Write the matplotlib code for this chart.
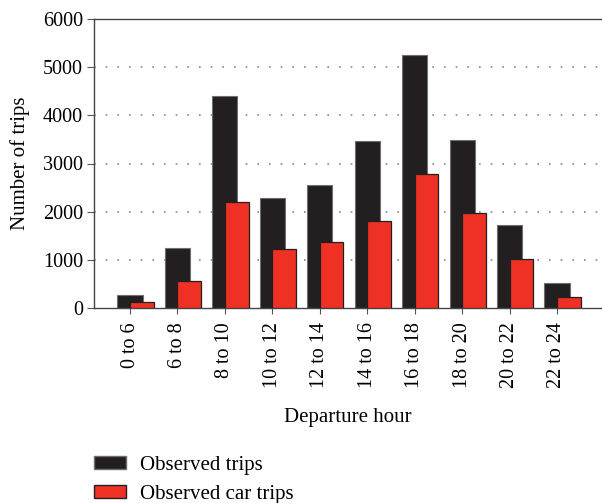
import numpy as np
import matplotlib.pyplot as plt
from matplotlib.patches import Patch

plt.rcParams['font.family'] = ['Liberation Serif', 'DejaVu Serif']

# departure hour bins and counts
hours = ['0 to 6', '6 to 8', '8 to 10', '10 to 12', '12 to 14',
         '14 to 16', '16 to 18', '18 to 20', '20 to 22', '22 to 24']
all_trips = [280, 1245, 4400, 2285, 2550, 3460, 5250, 3480, 1715, 510]
car_trips = [120, 570, 2205, 1230, 1360, 1800, 2790, 1965, 1015, 230]

black = '#231f20'
red = '#ee3124'

fig = plt.figure(figsize=(6.02, 5.03), dpi=100)
ax = fig.add_axes([94/602, 1-308/503, 1-94/602, (308-19)/503])

x = np.arange(len(hours))
ax.bar(x, all_trips, width=0.53, color=black, edgecolor='#6d6e71',
       linewidth=0.8, zorder=2)
ax.bar(x, car_trips, width=0.5, align='edge', color=red, edgecolor=black,
       linewidth=0.9, zorder=3)

ax.set_xlim(-0.76, 9.95)
ax.set_ylim(0, 6000)
ax.set_yticks(np.arange(0, 6001, 1000))
ax.set_xticks(x)
ax.set_xticklabels(hours, rotation=90, fontsize=14.5)
ax.tick_params(axis='y', labelsize=14.5, direction='out', length=5, color='#555555', pad=3)
ax.tick_params(axis='x', direction='out', length=4, color='#555555', pad=6)

for v in range(1000, 6000, 1000):
    ax.axhline(v, color='#888888', linestyle=(0, (1, 6)), linewidth=1.2, zorder=1)

for s in ['left', 'top', 'bottom']:
    ax.spines[s].set_color('#444444')
    ax.spines[s].set_linewidth(1.0)
ax.spines['right'].set_visible(False)

ax.set_ylabel('Number of trips', fontsize=15)
ax.yaxis.set_label_coords(-0.125, 0.5)
ax.set_xlabel('Departure hour', fontsize=15)
ax.xaxis.set_label_coords(0.5, -0.345)

handles = [Patch(facecolor=black, edgecolor='#6d6e71', label='Observed trips'),
           Patch(facecolor=red, edgecolor=black, label='Observed car trips')]
fig.legend(handles=handles, loc='upper left', bbox_to_anchor=(0.156, 0.094),
           frameon=False, fontsize=15, handlelength=1.55, handleheight=0.6,
           labelspacing=0.5, handletextpad=0.65, borderaxespad=0, borderpad=0)

fig.savefig('out.png', dpi=100)
